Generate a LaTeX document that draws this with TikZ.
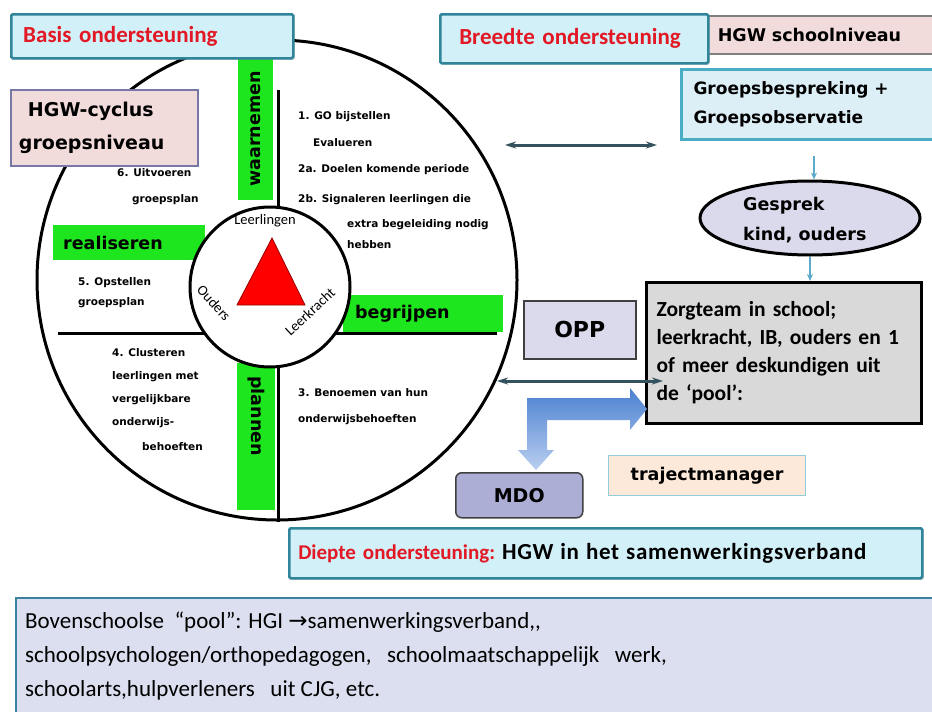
\documentclass[tikz,border=0pt]{standalone}
\usepackage{fontspec}
\newfontfamily\dv{DejaVu Sans}
\newfontfamily\cb{Carlito}
\usetikzlibrary{shapes.geometric,arrows.meta,shadows}
\definecolor{tealbd}{RGB}{49,133,155}
\definecolor{cyanfill}{RGB}{210,240,248}
\definecolor{redtxt}{RGB}{226,24,36}
\definecolor{pinkfill}{RGB}{242,220,219}
\definecolor{grayblue}{RGB}{120,120,165}
\definecolor{groepsbd}{RGB}{75,172,198}
\definecolor{groepsfill}{RGB}{220,238,246}
\definecolor{lavender}{RGB}{218,218,236}
\definecolor{mdofill}{RGB}{172,174,214}
\definecolor{peach}{RGB}{253,233,217}
\definecolor{peachbd}{RGB}{146,205,220}
\definecolor{greenbar}{RGB}{30,230,30}
\definecolor{zorgfill}{RGB}{217,217,217}
\definecolor{bottomfill}{RGB}{220,223,239}
\definecolor{bottombd}{RGB}{60,130,160}
\definecolor{arrowdark}{RGB}{52,82,94}
\definecolor{thinteal}{RGB}{90,170,200}
\definecolor{blueA}{RGB}{74,128,208}
\definecolor{blueB}{RGB}{185,206,240}
\begin{document}
\begin{tikzpicture}[x=1pt,y=-1pt,
  cbox/.style={draw=tealbd, line width=2.5pt, fill=cyanfill, rounded corners=1.5pt,
    drop shadow={shadow xshift=1.5pt, shadow yshift=-1.5pt, opacity=.3},
    anchor=north west, align=left, inner ysep=0pt},
  redhd/.style={font=\cb\bfseries\fontsize{23}{26}\selectfont, text=redtxt},
  smalltxt/.style={font=\dv\bfseries\fontsize{10.5}{12}\selectfont, anchor=west, inner sep=0pt},
  barstyle/.style={fill=greenbar, draw=none, inner ysep=0pt},
  barlabel/.style={font=\dv\bfseries\fontsize{17.5}{20}\selectfont, inner sep=0pt},
  cornerlbl/.style={font=\cb\fontsize{14.5}{16}\selectfont, inner sep=0pt},
  tahbox/.style={anchor=north west, align=left, inner ysep=0pt},
  dbl/.style={line width=3pt, draw=arrowdark, {Stealth[length=11pt,width=7pt]}-{Stealth[length=11pt,width=7pt]}},
  thinarrow/.style={line width=1.3pt, draw=thinteal, -{Stealth[length=7pt,width=6pt]}},
  bottomtxt/.style={font=\cb\fontsize{23}{26}\selectfont, anchor=base west, inner sep=0pt}
]
\useasboundingbox (0,0) rectangle (932,712);
\fill[white] (0,0) rectangle (932,712);

% ---------- big circle ----------
\node[circle, draw, line width=3pt, minimum size=480pt, inner sep=0pt] (outer) at (277,280) {};
\coordinate (vtop) at (278,90);
\coordinate (hl) at (58,333);
\coordinate (hr) at (497,333);
\draw[line width=3pt] (vtop) -- (vtop |- outer.south);
\draw[line width=3pt] (hl) -- (hr);

% green bars
\node[barstyle, rotate=90, minimum width=142pt, minimum height=35pt, font=\dv\bfseries\fontsize{17.5}{20}\selectfont] (waar) at (255.5,129) {waarnemen};
\node[barstyle, anchor=north west, minimum width=152pt, minimum height=35pt, text width=132pt, inner xsep=10pt, align=left, font=\dv\bfseries\fontsize{17.5}{20}\selectfont] (real) at (53,225) {realiseren};
\node[barstyle, anchor=north west, minimum width=160pt, minimum height=37pt, text width=136pt, inner xsep=12pt, align=left, font=\dv\bfseries\fontsize{17.5}{20}\selectfont] (begr) at (343,295) {begrijpen};
\node[barstyle, anchor=north west, minimum width=38pt, minimum height=147pt, inner sep=0pt] (planbar) at (237,363) {};
\node[barlabel, rotate=-90] (plan) at (256,416) {plannen};

% inner circle
\node[circle, draw, fill=white, line width=3pt, minimum size=160pt, inner sep=0pt] (inner) at (270,287) {};
\draw[fill=red, draw=red!60!black, line width=0.8pt] (272,238) -- (237,305) -- (305,305) -- cycle;
\node[cornerlbl] (leerl) at (265,221) {Leerlingen};
\node[cornerlbl, rotate=-48] (ouders) at (214,303) {Ouders};
\node[cornerlbl, rotate=43] (leerk) at (310,312) {Leerkracht};

% small texts
\node[smalltxt] (t1) at (298,117) {1. GO bijstellen};
\node[smalltxt] (t1b) at (313,143) {Evalueren};
\node[smalltxt] (t2a) at (298,170) {2a. Doelen komende periode};
\node[smalltxt] (t2b) at (298,200) {2b. Signaleren leerlingen die};
\node[smalltxt] (t2c) at (347,225) {extra begeleiding nodig};
\node[smalltxt] (t2d) at (347,245) {hebben};
\node[smalltxt] (t6) at (117,173) {6. Uitvoeren};
\node[smalltxt] (t6b) at (132,200) {groepsplan};
\node[smalltxt] (t5) at (78,283) {5. Opstellen};
\node[smalltxt] (t5b) at (78,303) {groepsplan};
\node[smalltxt] (t4) at (112,353) {4. Clusteren};
\node[smalltxt] (t4b) at (112,377) {leerlingen met};
\node[smalltxt] (t4c) at (112,400) {vergelijkbare};
\node[smalltxt] (t4d) at (112,423) {onderwijs-};
\node[smalltxt] (t4e) at (142,447) {behoeften};
\node[smalltxt] (t3) at (298,393) {3. Benoemen van hun};
\node[smalltxt] (t3b) at (298,420) {onderwijsbehoeften};

% ---------- top left boxes ----------
\node[cbox, redhd, minimum width=282pt, minimum height=44pt, text width=258pt, inner xsep=12pt] (basis) at (10,13) {Basis ondersteuning};
\node[tahbox, draw=grayblue, line width=2pt, fill=pinkfill, minimum width=187pt, minimum height=76pt, text width=171pt, inner xsep=8pt, font=\dv\bfseries\fontsize{19}{33}\selectfont] (cyclus) at (10,89) {\hspace*{9pt}HGW-cyclus\\groepsniveau};

% ---------- top right ----------
\node[tahbox, draw=gray, line width=1.5pt, fill=pinkfill, minimum width=238pt, minimum height=38pt, text width=218pt, inner xsep=10pt, font=\dv\bfseries\fontsize{17.5}{20}\selectfont] (school) at (707,15) {HGW schoolniveau};
\node[cbox, redhd, minimum width=268pt, minimum height=49pt, text width=230pt, inner xsep=19pt] (breedte) at (439,13) {Breedte ondersteuning};
\node[tahbox, draw=groepsbd, line width=3pt, fill=groepsfill, minimum width=265pt, minimum height=70pt, text width=241pt, inner xsep=12pt, font=\dv\bfseries\fontsize{17}{29}\selectfont] (groeps) at (680,68) {Groepsbespreking +\\Groepsobservatie};

\node[ellipse, draw, line width=3pt, fill=lavender, minimum width=220pt, minimum height=74pt, inner sep=0pt] (gesprek) at (810,218) {};
\node[anchor=west, align=left, inner sep=0pt, font=\dv\bfseries\fontsize{17.5}{30}\selectfont] (gesprektxt) at (743,220) {Gesprek\\kind, ouders};

\node[tahbox, draw, line width=3pt, fill=zorgfill, minimum width=275pt, minimum height=141pt, text width=255pt, inner xsep=10pt, font=\cb\bfseries\fontsize{21.5}{28}\selectfont] (zorg) at (645,281) {Zorgteam in school;\\leerkracht, IB, ouders en 1\\of meer deskundigen uit\\de ‘pool’:};

\node[anchor=north west, draw=black!75, line width=1.5pt, fill=lavender, minimum width=112pt, minimum height=58pt, font=\dv\bfseries\fontsize{22}{24}\selectfont] (opp) at (523,300) {OPP};

% thin arrows
\draw[thinarrow, shorten <=15pt] (groeps.south) -- (groeps.south |- gesprek.north);
\draw[thinarrow] (gesprek.south) -- (gesprek.south |- zorg.north);

% double arrows
\coordinate (dA1) at (505,145);
\coordinate (dA2) at (657,145);
\draw[dbl] (dA1) -- (dA2);
\coordinate (dB1) at (497,381);
\coordinate (dB2) at (663,381);
\draw[dbl] (dB1) -- (dB2);

% blue L arrow
\shade[top color=blueA, bottom color=blueB] (527,398) -- (630,398) -- (630,388) -- (647,409) -- (630,430) -- (630,420) -- (547,420) -- (547,450) -- (554,450) -- (536,470) -- (518,450) -- (527,450) -- cycle;

\node[anchor=north west, draw=black!75, line width=1.5pt, fill=mdofill, rounded corners=6pt, minimum width=127pt, minimum height=45pt, font=\dv\bfseries\fontsize{19}{22}\selectfont] (mdo) at (455,472) {MDO};
\node[anchor=north west, draw=peachbd, line width=1.2pt, fill=peach, minimum width=197pt, minimum height=40pt, font=\dv\bfseries\fontsize{17.5}{20}\selectfont] (traject) at (608,455) {trajectmanager};

% ---------- bottom ----------
\node[cbox, minimum width=633pt, minimum height=50pt, text width=615pt, inner xsep=9pt, font=\cb\bfseries\fontsize{21}{24}\selectfont] (diepte) at (288,527) {{\color{redtxt}Diepte ondersteuning:}\ {\fontsize{23}{24}\selectfont\addfontfeature{LetterSpace=3}HGW in het samenwerkingsverband}};

\node[anchor=north west, draw=bottombd, line width=2pt, fill=bottomfill, minimum width=940pt, minimum height=130pt, inner sep=0pt] (bovenbox) at (15,597) {};
\node[bottomtxt] (b1) at (25,628) {Bovenschoolse~ “pool”: HGI {\dv →}samenwerkingsverband,,};
\node[bottomtxt] (b2) at (25,662) {schoolpsychologen/orthopedagogen,~~ schoolmaatschappelijk~~ werk,};
\node[bottomtxt] (b3) at (25,696) {schoolarts,hulpverleners~~ uit CJG, etc.};
\end{tikzpicture}
\end{document}
